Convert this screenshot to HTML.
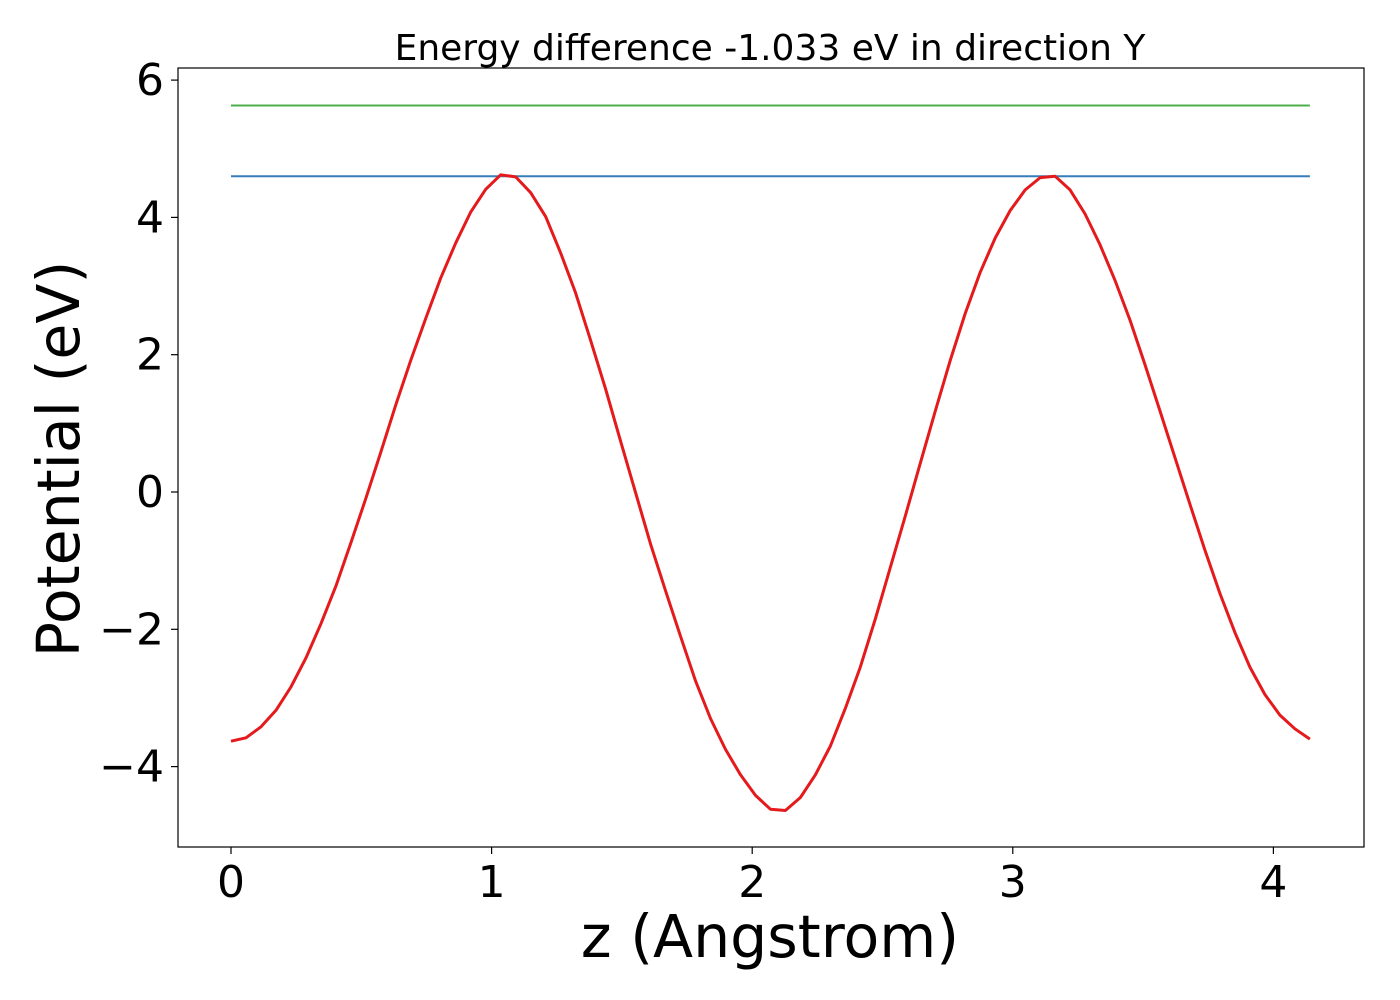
<!DOCTYPE html>
<html><head><meta charset="utf-8"><style>body{margin:0;background:#fff}svg{display:block;font-family:"DejaVu Sans","Liberation Sans",sans-serif}</style></head>
<body>
<svg id="chart" width="1400" height="1000" xmlns="http://www.w3.org/2000/svg">
<rect width="1400" height="1000" fill="#fff"/>
<text x="770" y="60" font-size="36" text-anchor="middle">Energy difference -1.033 eV in direction Y</text>
<g id="plot"></g>
<rect x="178" y="68" width="1186" height="779" fill="none" stroke="#000" stroke-width="1.2"/>
<text x="770" y="957" font-size="58.5" text-anchor="middle">z (Angstrom)</text>
<text transform="translate(79,459) rotate(-90)" font-size="58.5" text-anchor="middle">Potential (eV)</text>
</svg>
<script>
const xTicks=[0,1,2,3,4];
const yTicks=[-4,-2,0,2,4,6];
const potential=[-3.63,-3.58,-3.42,-3.18,-2.84,-2.42,-1.92,-1.37,-0.74,-0.09,0.58,1.27,1.92,2.53,3.12,3.63,4.08,4.41,4.62,4.59,4.36,4.01,3.48,2.90,2.21,1.50,0.74,-0.01,-0.76,-1.44,-2.10,-2.75,-3.30,-3.75,-4.12,-4.42,-4.62,-4.64,-4.45,-4.12,-3.70,-3.15,-2.55,-1.85,-1.10,-0.35,0.42,1.18,1.92,2.60,3.20,3.70,4.10,4.40,4.58,4.60,4.40,4.05,3.60,3.08,2.50,1.85,1.18,0.50,-0.18,-0.85,-1.48,-2.05,-2.55,-2.95,-3.25,-3.45,-3.60];
const xStep=0.0575;
const blueLevel=4.60;
const greenLevel=5.63;
const xMin=0, xMax=4.14;
const X=v=>231+v*260.6, Y=v=>492-v*68.65;
const NS='http://www.w3.org/2000/svg', g=document.getElementById('plot');
function mk(t,a){const e=document.createElementNS(NS,t);for(const k in a)e.setAttribute(k,a[k]);g.appendChild(e);return e;}
xTicks.forEach(t=>{
 const l=mk('line',{x1:X(t),x2:X(t),y1:847,y2:854,stroke:'#000','stroke-width':1.2});
 
 
 const s=mk('text',{x:X(t),y:897,'font-size':44,'text-anchor':'middle'});s.textContent=String(t);
 
 
});
yTicks.forEach(t=>{
 const l=mk('line',{x1:171,x2:178,y1:Y(t),y2:Y(t),stroke:'#000','stroke-width':1.2});
 
 
 const s=mk('text',{x:164,y:Y(t)+15,'font-size':44,'text-anchor':'end'});s.textContent=(t<0?'\u2212':'')+Math.abs(t);
 
 
});
const gl=mk('line',{x1:X(xMin),x2:X(xMax),y1:Y(greenLevel),y2:Y(greenLevel),stroke:'#4daf4a','stroke-width':2});


const bl=mk('line',{x1:X(xMin),x2:X(xMax),y1:Y(blueLevel),y2:Y(blueLevel),stroke:'#377eb8','stroke-width':2});


const pts=potential.map((v,i)=>X(i*xStep).toFixed(1)+','+Y(v).toFixed(1)).join(' ');
const pl=mk('polyline',{points:pts,fill:'none',stroke:'#e41a1c','stroke-width':3,'stroke-linejoin':'round'});


</script>
</body></html>
